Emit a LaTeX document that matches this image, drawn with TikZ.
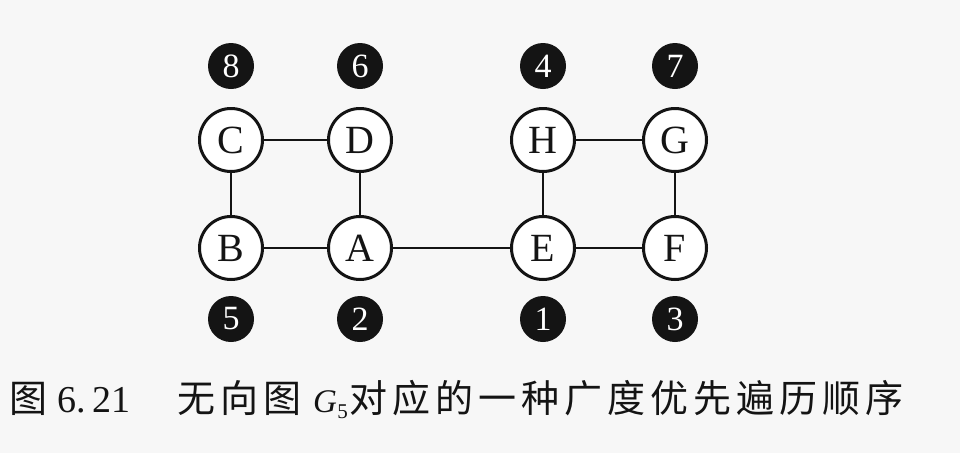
\documentclass[tikz,border=0pt]{standalone}
\usepackage{fontspec}
\setmainfont{Liberation Serif}
\newfontfamily\cjk{Noto Sans CJK SC}
\definecolor{paper}{RGB}{247,247,247}
\definecolor{ink}{RGB}{20,20,20}
\newcommand{\cchar}[1]{\makebox[43pt]{\cjk #1}}
\begin{document}
\begin{tikzpicture}[x=1pt,y=-1pt,
  vtx/.style={circle,draw=ink,line width=3pt,fill=white,minimum size=63pt,inner sep=0pt,
    font=\fontsize{40}{40}\selectfont,text=ink},
  ord/.style={circle,fill=ink,minimum size=46pt,inner sep=0pt,
    font=\fontsize{34}{34}\selectfont,text=white},
  edge/.style={draw=ink,line width=2.2pt},
  captxt/.style={inner sep=0pt,text=ink,font=\fontsize{38}{38}\selectfont}]
\fill[paper] (0,0) rectangle (960,453);
\useasboundingbox (0,0) rectangle (960,453);
\node[vtx] (C) at (231,140) {C};
\node[vtx] (D) at (360,140) {D};
\node[vtx] (H) at (543,140) {H};
\node[vtx] (G) at (675,140) {G};
\node[vtx] (B) at (231,248) {B};
\node[vtx] (A) at (360,248) {A};
\node[vtx] (E) at (543,248) {E};
\node[vtx] (F) at (675,248) {F};
\node[ord] (o8) at (231,66) {8};
\node[ord] (o6) at (360,66) {6};
\node[ord] (o4) at (543,66) {4};
\node[ord] (o7) at (675,66) {7};
\node[ord] (o5) at (231,319) {5};
\node[ord] (o2) at (360,319) {2};
\node[ord] (o1) at (543,319) {1};
\node[ord] (o3) at (675,319) {3};
\draw[edge] (C) -- (D);
\draw[edge] (C) -- (B);
\draw[edge] (D) -- (A);
\draw[edge] (B) -- (A);
\draw[edge] (A) -- (E);
\draw[edge] (H) -- (E);
\draw[edge] (H) -- (G);
\draw[edge] (G) -- (F);
\draw[edge] (E) -- (F);
\node[captxt,anchor=base west] (capA) at (6.5,412) {\cchar{图}};
\node[captxt,anchor=base west] (capB) at (57,412) {6.\,21};
\node[captxt,anchor=base west] (capC) at (174.5,412) {\cchar{无}\cchar{向}\cchar{图}};
\node[captxt,anchor=base west,font=\fontsize{33}{33}\selectfont] (capD) at (313,412)
  {\textit{G}\kern0.3pt\raisebox{-6pt}{\fontsize{21}{21}\selectfont 5}};
\node[captxt,anchor=base west] (capE) at (347,412)
  {\cchar{对}\cchar{应}\cchar{的}\cchar{一}\cchar{种}\cchar{广}\cchar{度}\cchar{优}\cchar{先}\cchar{遍}\cchar{历}\cchar{顺}\cchar{序}};
\end{tikzpicture}
\end{document}
